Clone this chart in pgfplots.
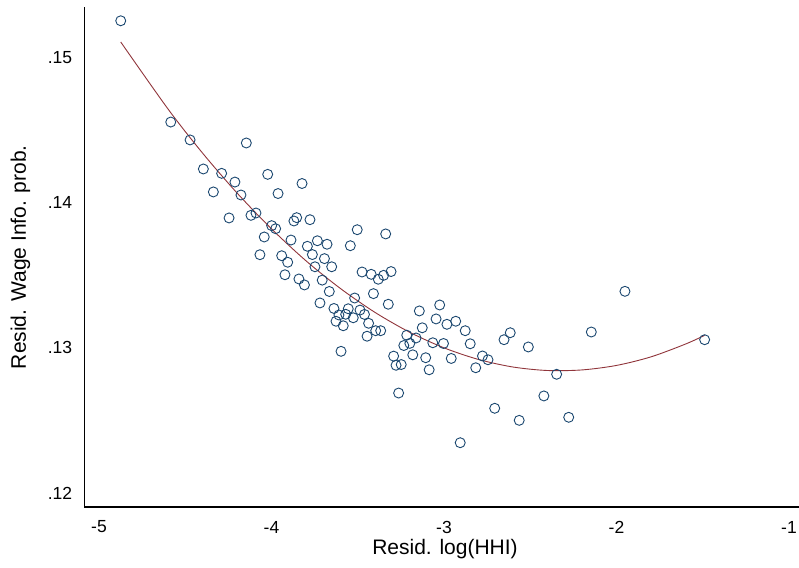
\documentclass[border=0pt]{standalone}
\usepackage{fontspec}
\setmainfont{Liberation Sans}
\usepackage{pgfplots}
\pgfplotsset{compat=1.18}
\definecolor{stnavy}{RGB}{26,71,111}
\definecolor{stmaroon}{RGB}{144,53,59}

% binned scatter: x = resid. log(HHI), y = resid. wage info prob.
\pgfplotstableread{
x y
-4.874 .15250
-4.584 .14553
-4.472 .14430
-4.146 .14409
-4.395 .14230
-4.289 .14200
-4.022 .14193
-4.212 .14140
-4.337 .14072
-4.177 .14051
-3.962 .14061
-3.823 .14130
-4.246 .13893
-4.119 .13911
-4.090 .13927
-3.854 .13895
-3.870 .13872
-3.777 .13881
-3.503 .13812
-3.999 .13840
-3.976 .13819
-4.042 .13762
-3.887 .13741
-3.734 .13736
-3.678 .13712
-3.792 .13698
-3.543 .13702
-3.763 .13641
-4.067 .13640
-3.941 .13633
-3.906 .13588
-3.693 .13613
-3.651 .13557
-3.748 .13557
-3.922 .13502
-3.475 .13521
-3.422 .13505
-3.381 .13471
-3.841 .13473
-3.809 .13432
-3.706 .13465
-3.665 .13387
-3.409 .13372
-3.518 .13342
-3.719 .13308
-3.638 .13270
-3.555 .13268
-3.487 .13259
-3.461 .13229
-3.338 .13783
-3.350 .13498
-3.307 .13524
-3.323 .13299
-3.609 .13225
-3.570 .13230
-3.526 .13206
-3.626 .13182
-3.584 .13151
-3.437 .13168
-3.143 .13253
-3.025 .13294
-3.046 .13198
-2.932 .13182
-2.983 .13161
-2.877 .13117
-3.126 .13137
-3.446 .13079
-3.396 .13117
-3.367 .13117
-3.216 .13086
-3.162 .13067
-3.198 .13030
-3.233 .13015
-3.065 .13034
-3.003 .13029
-2.848 .13027
-3.597 .12975
-3.292 .12942
-3.181 .12951
-3.106 .12931
-2.958 .12926
-3.278 .12879
-3.248 .12884
-3.086 .12848
-2.816 .12862
-2.652 .13055
-2.616 .13103
-2.511 .13005
-2.777 .12943
-2.745 .12917
-2.347 .12817
-3.263 .12688
-2.421 .12668
-2.706 .12583
-2.564 .12500
-2.277 .12521
-2.906 .12346
-1.951 .13388
-2.146 .13108
-1.489 .13055
}\bins

% quadratic fit line
\pgfplotstableread{
x y
-4.874 .15104
-4.600 .14643
-4.400 .14340
-4.200 .14065
-4.000 .13818
-3.800 .13598
-3.600 .13407
-3.400 .13243
-3.200 .13107
-3.000 .12999
-2.800 .12919
-2.600 .12867
-2.400 .12843
-2.200 .12847
-2.000 .12878
-1.800 .12937
-1.600 .13025
-1.489 .13085
}\fit

\begin{document}
\begin{tikzpicture}
\begin{axis}[
    name=ax,
    scale only axis,
    width=714.7bp, height=499.7bp,
    xmin=-5.0852, xmax=-0.942,
    ymin=0.119036, ymax=0.153428,
    axis x line=bottom, axis y line=left,
    axis line style={-, line width=1.1bp, black},
    major tick length=0pt,
    xtick={-5,-4,-3,-2,-1},
    xticklabels={-5,-4,-3,-2,-1},
    ytick={0.12,0.13,0.14,0.15},
    yticklabels={.12,.13,.14,.15},
    tick label style={font=\fontsize{17.5bp}{20bp}\selectfont},
    xticklabel style={anchor=center, yshift=-20bp},
    yticklabel style={anchor=east, inner sep=0pt, xshift=-12bp},
    xlabel={Resid. log(HHI)},
    ylabel={Resid. Wage Info. prob.},
    label style={font=\fontsize{21bp}{24bp}\selectfont},
    xlabel style={at={(axis description cs:0.5047,0)}, anchor=center, yshift=-42bp},
    ylabel style={at={(axis description cs:-0.0895,0.5)}, anchor=center},
    clip=false,
]
\addplot[only marks, mark=o, mark size=5bp, mark options={stnavy, line width=0.9bp}]
    table[x=x, y=y] {\bins};
\addplot[stmaroon, line width=0.9bp, smooth] table[x=x, y=y] {\fit};
\end{axis}
\pgfresetboundingbox
\path ([shift={(-84.3bp,-61bp)}]ax.south west) rectangle ([shift={(0bp,7.3bp)}]ax.north east);
\end{tikzpicture}
\end{document}
